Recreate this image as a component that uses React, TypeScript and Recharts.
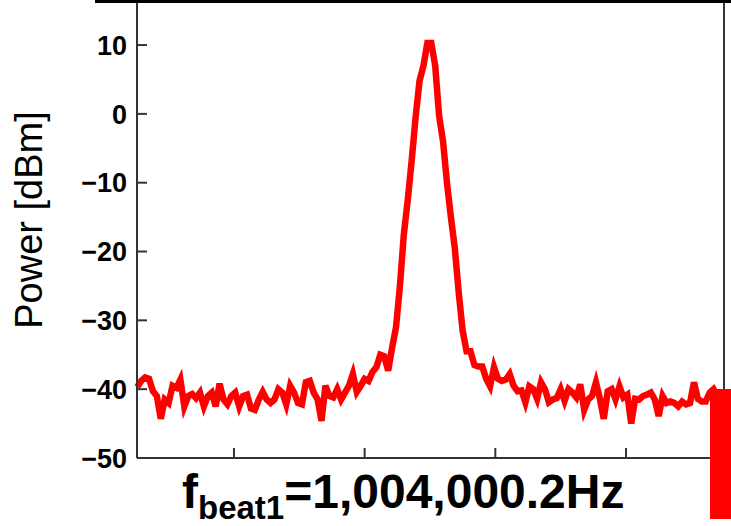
import { LineChart, Line, XAxis, YAxis, Label } from "recharts";

// Beat-note spectrum, frequency offset in Hz (axis labels are not shown in the figure)
const FREQ_START = -174;
const FREQ_STEP = 3;

const POWER_DBM = [
  -39.7, -38.8, -38.3, -38.5, -40.3, -41, -44.3, -41.5, -42, -39.5,
  -39.8, -38.6, -42.5, -41, -40.7, -41.3, -40.5, -42.5, -41, -40.5,
  -42.5, -39.2, -41.5, -42.2, -41, -40.5, -42.5, -41, -40.8, -42.8,
  -43, -41.5, -40.4, -41.5, -42, -41.5, -40, -40.5, -42.2, -39.5,
  -40.5, -42, -42.2, -39, -38.8, -40.5, -41.5, -44.6, -39.5, -41,
  -41.2, -40, -41.5, -40.5, -39.5, -37.8, -40.4, -39.5, -38.5, -38.8,
  -37.5, -36.8, -35, -35.2, -37.3, -34, -31, -25, -17.5, -12.5,
  -6.8, -0.5, 4.8, 7, 10.3, 10.3, 7, -0.3, -4, -10,
  -15, -19.5, -26, -31.5, -34.5, -34.5, -36.5, -36.7, -36.7, -38.5,
  -39.6, -36.8, -38.5, -38.8, -38.6, -37.8, -39.5, -40.3, -40.2, -41.9,
  -39.6, -40, -41.4, -39, -40, -41.9, -41.5, -41.3, -40, -41.7,
  -40, -40.5, -41.2, -39.3, -43, -41.5, -41, -39, -41.4, -44.3,
  -40.3, -40, -41.5, -39.6, -41.2, -40.8, -45, -41.4, -41.5, -41,
  -40.8, -40.5, -41.5, -43.9, -41, -42, -41.8, -42, -42.5, -41.8,
  -42.2, -42, -39, -41.4, -41.8, -41.8, -40.5, -40, -41, -41,
];

const Y_TICKS = [-50, -40, -30, -20, -10, 0, 10];
const X_TICKS = [-100, 0, 100, 200];

const data = POWER_DBM.map((p, i) => ({ f: FREQ_START + i * FREQ_STEP, p }));

const FONT = '"Liberation Sans", Arial, sans-serif';
const AXIS = "#333";
const TICK_LEN = 10;

const fmtTick = (v: number) => (v < 0 ? `\u2212${Math.abs(v)}` : `${v}`);

// ticks point into the plot, labels stay outside
function LeftTick(props: any) {
  const { x, y, payload } = props;
  return (
    <g>
      <line x1={x} x2={x + TICK_LEN} y1={y} y2={y} stroke={AXIS} strokeWidth={2} />
      <text
        x={x - 10}
        y={y}
        dy="0.36em"
        textAnchor="end"
        fontFamily={FONT}
        fontWeight="bold"
        fontSize={27}
        fill="#000"
      >
        {fmtTick(payload.value)}
      </text>
    </g>
  );
}

function RightTick(props: any) {
  const { x, y } = props;
  return <line x1={x} x2={x - TICK_LEN} y1={y} y2={y} stroke={AXIS} strokeWidth={2} />;
}

function BottomTick(props: any) {
  const { x, y } = props;
  return <line x1={x} x2={x} y1={y} y2={y - TICK_LEN} stroke={AXIS} strokeWidth={2} />;
}

export default function App() {
  return (
    <div
      style={{
        position: "absolute",
        left: 0,
        top: 0,
        width: 731,
        height: 526,
        background: "#fff",
        overflow: "hidden",
      }}
    >
      <LineChart
        width={731}
        height={526}
        data={data}
        margin={{ top: 1, right: 6, bottom: 67, left: 57 }}
      >
        <XAxis
          dataKey="f"
          type="number"
          domain={[-174.2, 275]}
          ticks={X_TICKS}
          tick={<BottomTick />}
          tickLine={false}
          tickSize={0}
          tickMargin={0}
          height={1}
          axisLine={{ stroke: AXIS, strokeWidth: 2 }}
        >
          <Label
            content={() => (
              <text
                x={182}
                y={508}
                fontFamily={FONT}
                fontWeight="bold"
                fontSize={48}
                fill="#000"
              >
                f
                <tspan fontSize={33} dy={11}>
                  beat1
                </tspan>
                <tspan dy={-11}>=1,004,000.2Hz</tspan>
              </text>
            )}
          />
        </XAxis>
        <YAxis
          yAxisId="left"
          type="number"
          domain={[-50, 16.4]}
          ticks={Y_TICKS}
          width={80}
          tick={<LeftTick />}
          tickLine={false}
          tickSize={0}
          tickMargin={0}
          axisLine={{ stroke: AXIS, strokeWidth: 2 }}
        >
          <Label
            content={() => (
              <text
                x={42}
                y={220}
                transform="rotate(-90, 42, 220)"
                textAnchor="middle"
                fontFamily={FONT}
                fontSize={38}
                fill="#000"
              >
                Power [dBm]
              </text>
            )}
          />
        </YAxis>
        <YAxis
          yAxisId="right"
          orientation="right"
          type="number"
          domain={[-50, 16.4]}
          ticks={Y_TICKS}
          width={1}
          tick={<RightTick />}
          tickLine={false}
          tickSize={0}
          tickMargin={0}
          axisLine={{ stroke: AXIS, strokeWidth: 2 }}
        />
        <Line
          yAxisId="left"
          dataKey="p"
          type="linear"
          stroke="#ff0000"
          strokeWidth={6.5}
          dot={false}
          isAnimationActive={false}
        />
      </LineChart>
      <div
        style={{
          position: "absolute",
          left: 95,
          top: 0,
          width: 636,
          height: 3,
          background: "#000",
        }}
      />
      <div
        style={{
          position: "absolute",
          left: 710,
          top: 389,
          width: 21,
          height: 130,
          background: "#ff0000",
        }}
      />
    </div>
  );
}
